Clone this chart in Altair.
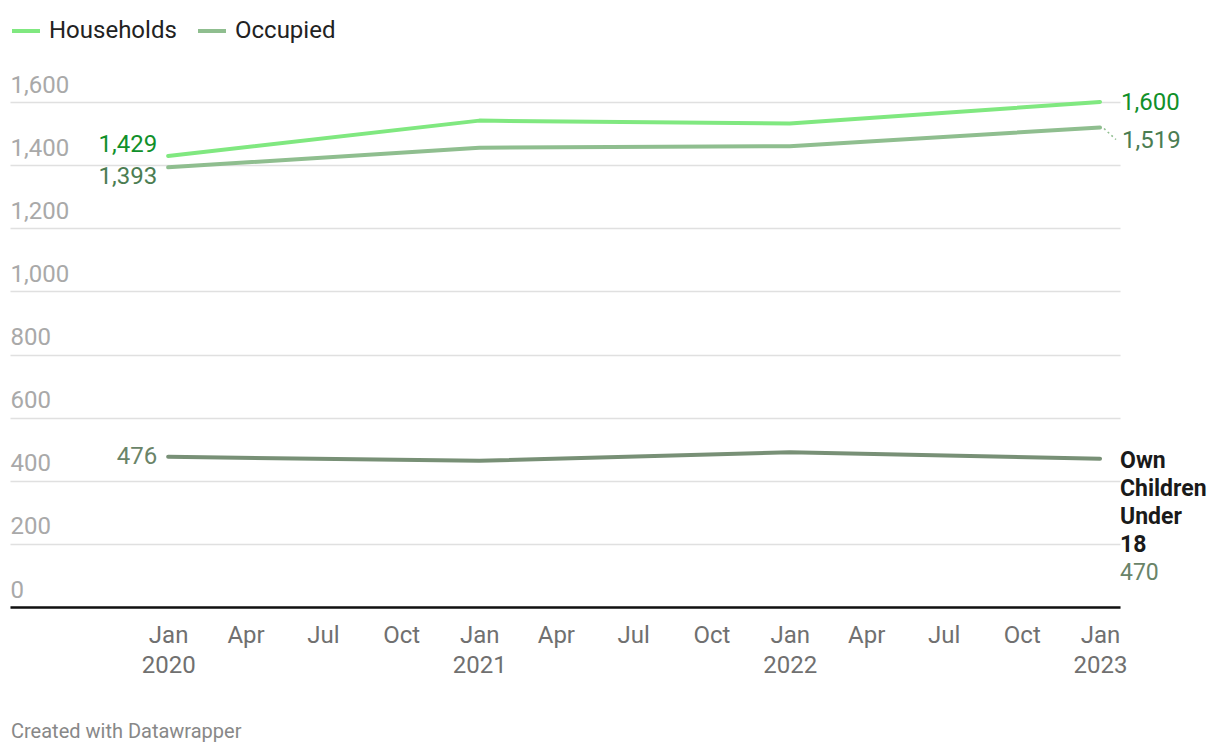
import altair as alt
import pandas as pd

# ---- data ----
dates = ["2020-01-01", "2021-01-01", "2022-01-01", "2023-01-01"]
households = [1429, 1541, 1532, 1600]
occupied = [1393, 1455, 1460, 1519]
own_children = [476, 463, 490, 470]

series_names = ["Households", "Occupied", "Own Children Under 18"]
legend_names = ["Households", "Occupied"]
line_colors = ["#80e880", "#8fbe8f", "#789076"]
label_colors = ["#10902a", "#4b7d52", "#6a8468"]

y_ticks = [0, 200, 400, 600, 800, 1000, 1200, 1400, 1600]
x_tick_years = [2020, 2021, 2022]
x_tick_months = [1, 4, 7, 10]
footer_text = "Created with Datawrapper"

rows = []
for name, vals in zip(series_names, [households, occupied, own_children]):
    for i, (d, v) in enumerate(zip(dates, vals)):
        rows.append({"series": name, "date": d, "value": v, "idx": i,
                     "name_label": "Own\nChildren\nUnder\n18"})
df = pd.DataFrame(rows)

x_values = [alt.DateTime(year=y, month=m, date=1, utc=True)
            for y in x_tick_years for m in x_tick_months]
x_values.append(alt.DateTime(year=2023, month=1, date=1, utc=True))

x_scale = alt.Scale(
    type="utc",
    domain=[alt.DateTime(year=2019, month=6, date=29, utc=True),
            alt.DateTime(year=2023, month=1, date=24, hours=12, utc=True)],
)
y_scale = alt.Scale(domain=[0, 1600], nice=False, zero=True)

x_axis = alt.Axis(
    values=x_values,
    labelExpr="utcmonth(datum.value) == 0 ? ['Jan', utcFormat(datum.value, '%Y')] : utcFormat(datum.value, '%b')",
    labelAlign="center", labelBaseline="alphabetic", labelPadding=35,
    labelLineHeight=30, labelColor="#707070", labelFontSize=24, labelFont="Roboto",
    labelFlush=False, labelOverlap=False,
    ticks=False, tickSize=0, grid=False,
    domain=True, domainColor="#111111", domainWidth=2.5,
    title=None, zindex=1,
)
y_axis = alt.Axis(
    values=y_ticks, format=",.0f",
    labelAlign="left", labelBaseline="alphabetic", labelPadding=0, labelOffset=-10,
    labelColor="#a9a9a9", labelFontSize=24, labelFont="Roboto",
    labelFlush=False, labelOverlap=False,
    ticks=False, tickSize=0, domain=False,
    grid=True, gridColor="#e0e0e0", gridWidth=1.5,
    title=None, zindex=0,
)

base = alt.Chart(df).encode(
    x=alt.X("date:T", scale=x_scale, axis=x_axis),
    y=alt.Y("value:Q", scale=y_scale, axis=y_axis),
)

lines = base.mark_line(strokeWidth=4, strokeCap="round", strokeJoin="round").encode(
    color=alt.Color(
        "series:N",
        scale=alt.Scale(domain=series_names, range=line_colors),
        legend=alt.Legend(
            values=legend_names, orient="none", legendX=0, legendY=-87,
            direction="horizontal", symbolType="stroke", symbolSize=784,
            symbolStrokeWidth=4, labelFontSize=24, labelFont="Roboto",
            labelColor="#222222", labelOffset=7, columnPadding=13, padding=0,
            title=None,
        ),
    ),
)


def value_label(series, idx, color, dx, dy, align, size=24):
    return base.transform_filter(
        (alt.datum.series == series) & (alt.datum.idx == idx)
    ).mark_text(
        align=align, baseline="alphabetic", dx=dx, dy=dy,
        fontSize=size, font="Roboto", color=color,
    ).encode(text=alt.Text("value:Q", format=","))


labels = [
    value_label(series_names[0], 0, label_colors[0], -11, -4, "right"),
    value_label(series_names[1], 0, label_colors[1], -11, 17, "right"),
    value_label(series_names[2], 0, label_colors[2], -11, 7, "right"),
    value_label(series_names[0], 3, label_colors[0], 21, 8, "left"),
    value_label(series_names[1], 3, label_colors[1], 22, 20, "left"),
    value_label(series_names[2], 3, label_colors[2], 20, 121, "left", size=23),
]

name_label = base.transform_filter(
    (alt.datum.series == series_names[2]) & (alt.datum.idx == 3)
).mark_text(
    align="left", baseline="alphabetic", dx=20, dy=9, lineBreak="\n",
    lineHeight=28, fontSize=23, fontWeight="bold", font="Roboto", color="#1a1a1a",
).encode(text="name_label:N")

connector = base.transform_filter(
    (alt.datum.series == series_names[1]) & (alt.datum.idx == 3)
).mark_rule(
    strokeDash=[2, 3], strokeWidth=1.5, color=line_colors[1],
    xOffset=4, yOffset=1, x2Offset=16, y2Offset=12,
).encode(x2="date:T", y2="value:Q")

footer = alt.Chart(pd.DataFrame({"t": [footer_text]})).mark_text(
    align="left", baseline="alphabetic", fontSize=20, font="Roboto", color="#888888",
).encode(x=alt.value(1), y=alt.value(636), text="t:N")

chart = alt.layer(lines, connector, *labels, name_label, footer).properties(
    width=1110, height=505,
    autosize=alt.AutoSizeParams(type="none"),
    padding={"left": 2, "top": 94, "right": 92, "bottom": 139},
).configure(font="Roboto").configure_view(strokeWidth=0)

chart.save("out.html", embed_options={"renderer": "svg", "actions": False})
